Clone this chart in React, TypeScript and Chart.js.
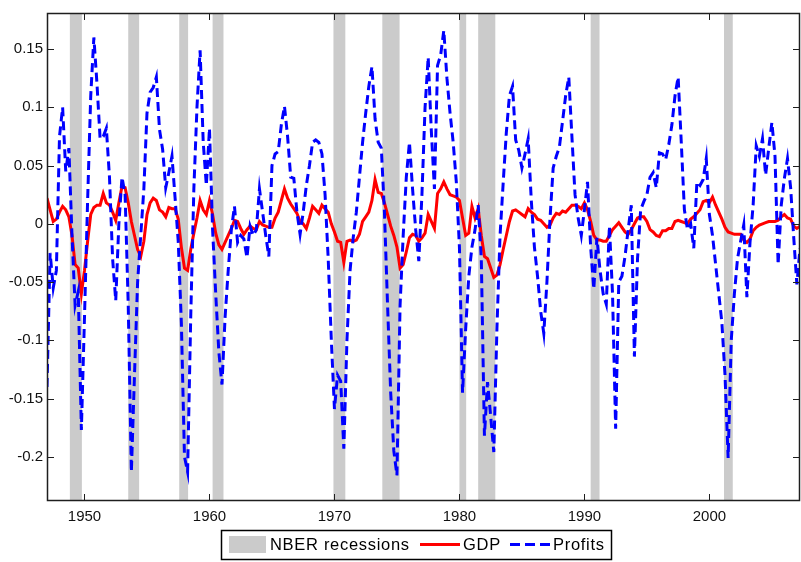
import { useEffect, useRef } from "react";
import { Chart, registerables } from "chart.js";

Chart.register(...registerables);

// Quarterly series, first observation 1947Q1
const START_YEAR = 1947;

const gdp = [
  0.022, 0.012, 0.002, 0.004, 0.010, 0.015, 0.012, 0.006, -0.010, -0.035,
  -0.038, -0.060, -0.040, -0.015, 0.008, 0.014, 0.016, 0.016, 0.026, 0.018,
  0.016, 0.010, 0.003, 0.018, 0.032, 0.031, 0.018, 0.002, -0.010, -0.022,
  -0.028, -0.015, 0.008, 0.018, 0.022, 0.020, 0.012, 0.010, 0.006, 0.014,
  0.013, 0.013, 0.004, -0.020, -0.038, -0.040, -0.022, -0.008, 0.005, 0.020,
  0.012, 0.008, 0.020, 0.008, -0.008, -0.018, -0.022, -0.016, -0.010, -0.004,
  0.003, 0.002, -0.004, -0.009, -0.005, -0.002, -0.004, -0.005, 0.002, -0.001,
  -0.002, -0.003, -0.003, 0.005, 0.010, 0.020, 0.030, 0.022, 0.017, 0.013,
  0.009, 0.002, 0.000, -0.004, 0.005, 0.015, 0.012, 0.009, 0.016, 0.013,
  0.010, 0.000, -0.007, -0.015, -0.016, -0.033, -0.015, -0.014, -0.015, -0.014,
  -0.009, 0.002, 0.006, 0.010, 0.020, 0.038, 0.027, 0.026, 0.018, 0.008,
  -0.002, -0.010, -0.020, -0.038, -0.035, -0.024, -0.012, -0.009, -0.010, -0.015,
  -0.012, -0.008, 0.008, 0.002, -0.004, 0.026, 0.030, 0.036, 0.030, 0.025,
  0.024, 0.023, 0.020, 0.005, -0.010, -0.008, 0.015, 0.005, 0.013, -0.010,
  -0.028, -0.030, -0.038, -0.046, -0.044, -0.035, -0.022, -0.010, 0.002, 0.011,
  0.012, 0.010, 0.008, 0.006, 0.013, 0.010, 0.008, 0.004, 0.003, 0.000,
  -0.003, -0.001, 0.005, 0.009, 0.008, 0.011, 0.010, 0.013, 0.016, 0.016,
  0.015, 0.013, 0.018, 0.012, 0.002, -0.010, -0.014, -0.014, -0.015, -0.015,
  -0.010, -0.005, -0.002, 0.001, -0.003, -0.007, -0.009, -0.005, 0.000, 0.005,
  0.006, 0.006, 0.002, -0.005, -0.007, -0.010, -0.011, -0.006, -0.006, -0.004,
  -0.004, 0.002, 0.003, 0.002, 0.001, 0.000, 0.004, 0.006, 0.009, 0.012,
  0.019, 0.020, 0.018, 0.023, 0.016, 0.010, 0.004, -0.003, -0.007, -0.008,
  -0.009, -0.009, -0.009, -0.014, -0.016, -0.013, -0.006, -0.003, -0.001, 0.000,
  0.001, 0.002, 0.002, 0.002, 0.003, 0.006, 0.008, 0.005, 0.004, -0.002,
  -0.004, -0.002,
];

const profits = [
  -0.140, -0.025, -0.055, -0.040, 0.075, 0.100, 0.045, 0.065, -0.010, -0.070,
  -0.058, -0.177, -0.080, 0.020, 0.110, 0.160, 0.120, 0.073, 0.075, 0.082,
  0.040, -0.030, -0.066, 0.000, 0.040, 0.025, -0.070, -0.213, -0.130, -0.050,
  -0.010, 0.030, 0.095, 0.113, 0.117, 0.126, 0.081, 0.064, 0.031, 0.044,
  0.058, 0.022, -0.015, -0.085, -0.200, -0.213, -0.080, 0.030, 0.100, 0.149,
  0.070, 0.033, 0.082, -0.005, -0.060, -0.110, -0.138, -0.080, -0.040, -0.005,
  0.015, -0.016, -0.010, -0.013, -0.029, -0.002, -0.010, -0.005, 0.030, 0.010,
  -0.010, -0.028, 0.050, 0.060, 0.062, 0.085, 0.101, 0.075, 0.040, 0.039,
  0.010, -0.009, 0.010, 0.033, 0.050, 0.070, 0.072, 0.070, 0.060, 0.025,
  -0.030, -0.100, -0.159, -0.130, -0.135, -0.193, -0.100, -0.040, -0.012, 0.010,
  0.040, 0.070, 0.095, 0.118, 0.135, 0.090, 0.070, 0.065, 0.010, -0.070,
  -0.145, -0.195, -0.216, -0.070, -0.010, 0.040, 0.070, 0.030, -0.005, -0.032,
  0.025, 0.100, 0.143, 0.080, 0.030, 0.136, 0.145, 0.166, 0.125, 0.095,
  0.070, 0.036, -0.020, -0.145, -0.090, -0.045, -0.020, -0.005, 0.016, -0.030,
  -0.182, -0.136, -0.165, -0.196, -0.090, -0.010, 0.035, 0.078, 0.110, 0.118,
  0.072, 0.063, 0.048, 0.060, 0.073, 0.020, -0.020, -0.045, -0.075, -0.094,
  -0.050, 0.005, 0.048, 0.058, 0.066, 0.088, 0.110, 0.126, 0.075, 0.025,
  0.005, -0.010, 0.012, 0.036, -0.020, -0.056, -0.012, -0.040, -0.060, -0.069,
  -0.002, -0.060, -0.176, -0.050, -0.045, -0.028, -0.005, 0.016, -0.114, -0.030,
  0.012, 0.019, 0.025, 0.040, 0.044, 0.031, 0.061, 0.060, 0.055, 0.068,
  0.085, 0.110, 0.126, 0.070, 0.012, -0.005, 0.000, -0.021, 0.036, 0.033,
  0.038, 0.056, 0.008, -0.010, -0.035, -0.060, -0.085, -0.130, -0.201, -0.100,
  -0.060, -0.030, -0.015, -0.001, -0.063, -0.016, 0.016, 0.067, 0.058, 0.073,
  0.042, 0.065, 0.087, 0.058, -0.035, 0.016, 0.039, 0.056, 0.031, -0.012,
  -0.052, -0.021,
];

// NBER recession periods (peak, trough) in decimal years
const recessions: [number, number][] = [
  [1948.83, 1949.79],
  [1953.5, 1954.37],
  [1957.58, 1958.29],
  [1960.25, 1961.12],
  [1969.92, 1970.87],
  [1973.83, 1975.21],
  [1980.0, 1980.54],
  [1981.5, 1982.87],
  [1990.5, 1991.21],
  [2001.17, 2001.87],
];

const xTicks = [1950, 1960, 1970, 1980, 1990, 2000];
const yTicks = [-0.2, -0.15, -0.1, -0.05, 0, 0.05, 0.1, 0.15];
const Y_MIN = -0.238;
const Y_MAX = 0.181;

const legendLabels = ["NBER recessions", "GDP", "Profits"];

const FONT = '"Liberation Sans", Arial, Helvetica, sans-serif';
const AXIS_COLOR = "#1e1e1e";
const BAND_COLOR = "#cbcbcb";
const GDP_COLOR = "#ff0000";
const PROFIT_COLOR = "#0000ff";
const PROFIT_DASH = [9, 5];

const quarterDate = (i: number) => START_YEAR + i / 4;

const recessionBands = {
  id: "recessionBands",
  beforeDatasetsDraw(chart: any) {
    const { ctx, chartArea, scales } = chart;
    const xs = scales.x;
    ctx.save();
    ctx.fillStyle = BAND_COLOR;
    for (const [a, b] of recessions) {
      const x1 = Math.max(xs.getPixelForValue(a), chartArea.left);
      const x2 = Math.min(xs.getPixelForValue(b), chartArea.right);
      if (x2 > x1) ctx.fillRect(x1, chartArea.top, x2 - x1, chartArea.bottom - chartArea.top);
    }
    ctx.restore();
  },
};

const frameAndTicks = {
  id: "frameAndTicks",
  afterDatasetsDraw(chart: any) {
    const { ctx, chartArea, scales } = chart;
    const { left, right, top, bottom } = chartArea;
    const len = 7;
    ctx.save();
    ctx.strokeStyle = AXIS_COLOR;
    ctx.lineWidth = 1;
    ctx.setLineDash([]);
    ctx.beginPath();
    for (const v of xTicks) {
      const px = Math.round(scales.x.getPixelForValue(v)) + 0.5;
      ctx.moveTo(px, bottom);
      ctx.lineTo(px, bottom - len);
      ctx.moveTo(px, top);
      ctx.lineTo(px, top + len);
    }
    for (const v of yTicks) {
      const py = Math.round(scales.y.getPixelForValue(v)) + 0.5;
      ctx.moveTo(left, py);
      ctx.lineTo(left + len, py);
      ctx.moveTo(right, py);
      ctx.lineTo(right - len, py);
    }
    ctx.stroke();
    ctx.lineWidth = 1.5;
    ctx.strokeRect(left + 0.5, top + 0.5, right - left - 1, bottom - top - 1);
    ctx.restore();
  },
};

const boxedLegend = {
  id: "boxedLegend",
  afterDraw(chart: any) {
    const { ctx, chartArea } = chart;
    const boxLeft = 221;
    const boxTop = chartArea.bottom + 29;
    const boxW = 390;
    const boxH = 29;
    const midY = boxTop + 14.5;
    ctx.save();
    ctx.fillStyle = "#ffffff";
    ctx.fillRect(boxLeft, boxTop, boxW, boxH);
    ctx.strokeStyle = "#000000";
    ctx.lineWidth = 1.5;
    ctx.setLineDash([]);
    ctx.strokeRect(boxLeft + 0.5, boxTop + 0.5, boxW, boxH);

    ctx.font = `16.5px ${FONT}`;
    (ctx as any).letterSpacing = "0.7px";
    ctx.textBaseline = "middle";
    ctx.textAlign = "left";

    // recession swatch
    ctx.fillStyle = BAND_COLOR;
    ctx.fillRect(boxLeft + 8, boxTop + 6, 37, 17);
    ctx.fillStyle = "#000000";
    ctx.fillText(legendLabels[0], boxLeft + 49, midY + 1);

    // GDP swatch
    ctx.strokeStyle = GDP_COLOR;
    ctx.lineWidth = 3;
    ctx.beginPath();
    ctx.moveTo(boxLeft + 199, midY);
    ctx.lineTo(boxLeft + 239, midY);
    ctx.stroke();
    ctx.fillText(legendLabels[1], boxLeft + 242, midY + 1);

    // Profits swatch
    ctx.strokeStyle = PROFIT_COLOR;
    ctx.setLineDash([10, 5]);
    ctx.beginPath();
    ctx.moveTo(boxLeft + 289, midY);
    ctx.lineTo(boxLeft + 329, midY);
    ctx.stroke();
    ctx.setLineDash([]);
    ctx.fillText(legendLabels[2], boxLeft + 332, midY + 1);
    ctx.restore();
  },
};

const fmtY = (v: number) => String(parseFloat(v.toFixed(2)));

export default function App() {
  const canvasRef = useRef<HTMLCanvasElement | null>(null);

  useEffect(() => {
    const canvas = canvasRef.current;
    if (!canvas) return;
    const gdpPoints = gdp.map((v, i) => ({ x: quarterDate(i), y: v }));
    const profitPoints = profits.map((v, i) => ({ x: quarterDate(i), y: v }));
    const tickFont = { family: FONT, size: 15 };

    const chart = new Chart(canvas, {
      type: "line",
      data: {
        datasets: [
          {
            label: legendLabels[2],
            data: profitPoints,
            borderColor: PROFIT_COLOR,
            borderWidth: 3,
            borderDash: PROFIT_DASH,
            pointRadius: 0,
            tension: 0,
            fill: false,
            order: 1,
          },
          {
            label: legendLabels[1],
            data: gdpPoints,
            borderColor: GDP_COLOR,
            borderWidth: 3,
            pointRadius: 0,
            tension: 0,
            fill: false,
            order: 2,
          },
        ],
      },
      options: {
        responsive: false,
        animation: false,
        devicePixelRatio: 1,
        layout: { padding: { left: 0, right: 1, top: 5, bottom: 0 } },
        plugins: {
          legend: { display: false },
          tooltip: { enabled: false },
        },
        scales: {
          x: {
            type: "linear",
            min: quarterDate(0),
            max: quarterDate(gdp.length - 1),
            grid: { display: false, drawTicks: false },
            border: { display: false },
            ticks: {
              font: tickFont,
              color: "#111111",
              padding: 7,
              maxRotation: 0,
              autoSkip: false,
              callback: (v: any) => String(v),
            },
            afterBuildTicks: (scale: any) => {
              scale.ticks = xTicks.map((v) => ({ value: v }));
            },
            afterFit: (scale: any) => {
              scale.height = 61;
            },
          },
          y: {
            type: "linear",
            min: Y_MIN,
            max: Y_MAX,
            grid: { display: false, drawTicks: false },
            border: { display: false },
            ticks: {
              font: tickFont,
              color: "#111111",
              padding: 4,
              autoSkip: false,
              callback: (v: any) => fmtY(Number(v)),
            },
            afterBuildTicks: (scale: any) => {
              scale.ticks = yTicks.map((v) => ({ value: v }));
            },
            afterFit: (scale: any) => {
              scale.width = 47;
            },
          },
        },
      },
      plugins: [recessionBands, frameAndTicks, boxedLegend],
    });

    return () => chart.destroy();
  }, []);

  return (
    <div style={{ position: "absolute", left: 0, top: 0, width: 801, height: 562, background: "#fff" }}>
      <canvas ref={canvasRef} width={801} height={562} style={{ display: "block", width: 801, height: 562 }} />
    </div>
  );
}
